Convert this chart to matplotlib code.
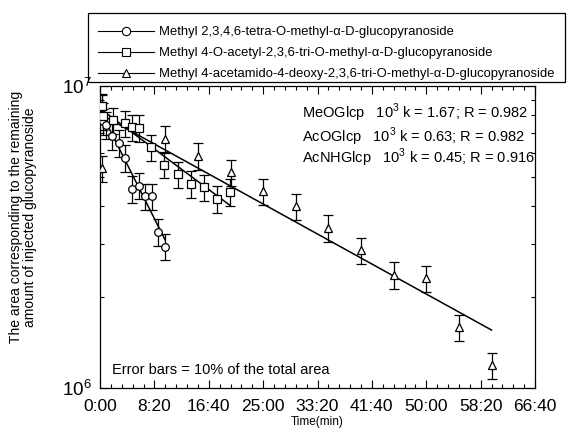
import numpy as np
import matplotlib
matplotlib.use("Agg")
import matplotlib.pyplot as plt
from matplotlib.lines import Line2D
from matplotlib.patches import Rectangle
from matplotlib.ticker import FuncFormatter, MultipleLocator, NullFormatter, LogLocator

plt.rcParams['font.family'] = 'Liberation Sans'
plt.rcParams['mathtext.fontset'] = 'custom'
plt.rcParams['mathtext.rm'] = 'Liberation Sans'

# time in seconds, area values
t_meo = np.array([18, 30, 55, 110, 172, 233, 294, 356, 417, 478, 533, 598])
a_meo = np.array([8.50, 7.64, 7.44, 6.81, 6.48, 5.78, 4.56, 4.68, 4.31, 4.31, 3.29, 2.94]) * 1e6

t_aco = np.array([18, 28, 117, 233, 294, 356, 469, 591, 714, 837, 954, 1076, 1198])
a_aco = np.array([8.57, 7.96, 7.70, 7.54, 7.31, 7.26, 6.27, 5.49, 5.11, 4.74, 4.62, 4.23, 4.46]) * 1e6

t_acnh = np.array([18, 600, 900, 1200, 1500, 1800, 2100, 2400, 2700, 3000, 3300, 3600])
a_acnh = np.array([5.35, 6.69, 5.87, 5.19, 4.49, 4.00, 3.39, 2.86, 2.37, 2.31, 1.59, 1.19]) * 1e6

labels = ["Methyl 2,3,4,6-tetra-O-methyl-\u03b1-D-glucopyranoside",
          "Methyl 4-O-acetyl-2,3,6-tri-O-methyl-\u03b1-D-glucopyranoside",
          "Methyl 4-acetamido-4-deoxy-2,3,6-tri-O-methyl-\u03b1-D-glucopyranoside"]
fit_text = ["MeOGlcp   10$^3$ k = 1.67; R = 0.982",
            "AcOGlcp   10$^3$ k = 0.63; R = 0.982",
            "AcNHGlcp   10$^3$ k = 0.45; R = 0.916"]

series = [(t_meo, a_meo, 'o'), (t_aco, a_aco, 's'), (t_acnh, a_acnh, '^')]

fig = plt.figure(figsize=(5.69, 4.37), dpi=100)
ax = fig.add_axes([100/569, 1-388/437, 435/569, 302/437])

handles = []
for t, a, m in series:
    ax.errorbar(t, a, yerr=0.1*a, fmt=m, ms=5.5, mfc='white', mec='black', mew=0.9,
                ecolor='black', elinewidth=0.9, capsize=3.5, capthick=0.9, zorder=3)
    # exponential fit ln(a) = ln(a0) - k t
    p = np.polyfit(t, np.log(a), 1)
    tt = np.array([t.min(), t.max()])
    ax.plot(tt, np.exp(np.polyval(p, tt)), color='black', lw=1.1, zorder=2)
    handles.append(Line2D([], [], color='black', lw=0.8, marker=m, ms=6,
                          mfc='white', mec='black', mew=0.8))

ax.set_yscale('log')
ax.set_ylim(1e6, 1e7)
ax.set_xlim(0, 4000)
ax.xaxis.set_major_locator(MultipleLocator(500))
ax.xaxis.set_minor_locator(MultipleLocator(100))
ax.xaxis.set_major_formatter(FuncFormatter(lambda v, pos: "%d:%02d" % (int(v // 60), int(v % 60))))
ax.yaxis.set_major_locator(LogLocator(base=10))
ax.yaxis.set_minor_locator(LogLocator(base=10, subs=np.arange(2, 10)))
ax.yaxis.set_minor_formatter(NullFormatter())

ax.tick_params(which='both', direction='in', top=True, right=True, width=0.8)
ax.tick_params(which='major', length=6)
ax.tick_params(which='minor', length=3)
ax.tick_params(axis='x', labelsize=12.5, pad=8)
ax.tick_params(axis='y', labelsize=13.5, pad=6)
for s in ax.spines.values():
    s.set_linewidth(0.9)

ax.set_xlabel("Time(min)", fontsize=8.5, labelpad=1)
ax.set_ylabel("The area corresponding to the remaining\namount of injected glucopyranoside",
              fontsize=10, linespacing=1.0)
ax.yaxis.set_label_coords(-0.145, 0.566)

ys = [0.911, 0.831, 0.762]
for txt, y in zip(fit_text, ys):
    ax.text(0.464, y, txt, transform=ax.transAxes, fontsize=10.5, va='center', ha='left')

ax.text(0.028, 0.06, "Error bars = 10% of the total area", transform=ax.transAxes,
        fontsize=10.5, va='center', ha='left')

# legend box drawn separately, entries sit in its lower part
fig.patches.append(Rectangle((88/569, 1-82/437), 477/569, 69/437, transform=fig.transFigure,
                             fill=False, edgecolor='black', lw=0.9))
fig.legend(handles, labels, loc='upper left', bbox_to_anchor=(98/569, 1-26/437),
           borderaxespad=0, borderpad=0, fontsize=9.4, handlelength=4.3, handletextpad=0.4,
           labelspacing=0.68, frameon=False)

fig.savefig("out.png", dpi=100)
